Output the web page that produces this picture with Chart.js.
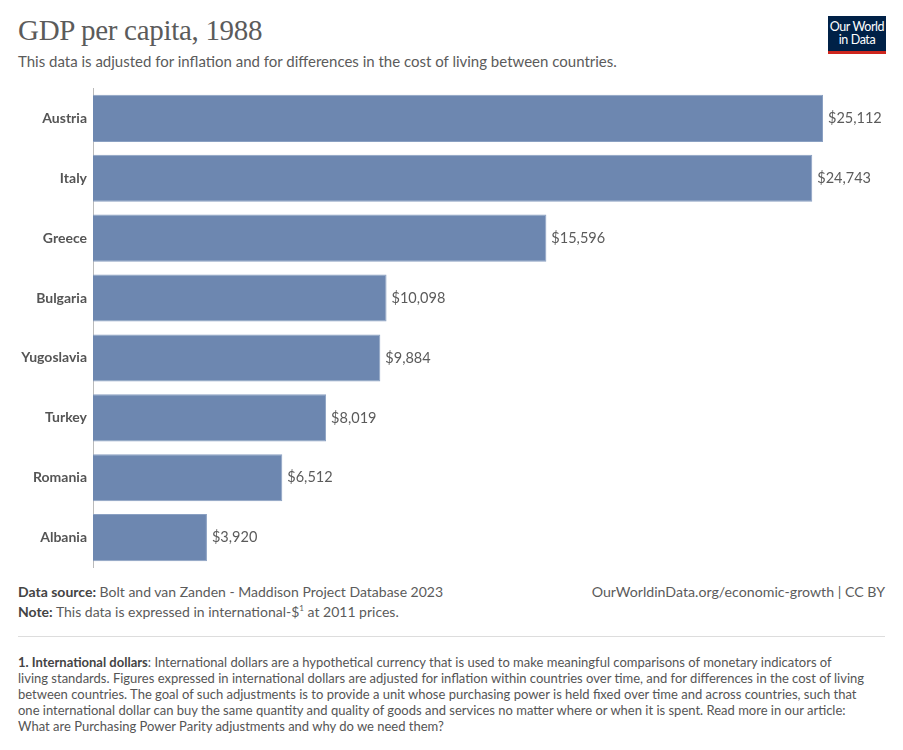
<!DOCTYPE html>
<html>
<head>
<meta charset="utf-8">
<script src="https://cdn.jsdelivr.net/npm/chart.js@4"></script>
<style>
  body { margin: 0; background: #fff; font-family: Lato, "Noto Sans", sans-serif; color: #5b5b5b; }
  #page { position: relative; width: 903px; height: 750px; overflow: hidden; }
  h1 { position: absolute; left: 18px; top: 14px; margin: 0; font-family: "Liberation Serif", "DejaVu Serif", serif; font-weight: normal; font-size: 29px; color: #5b5b5b; letter-spacing: -0.3px; }
  .sub { position: absolute; left: 18px; top: 52px; font-size: 15px; color: #5b5b5b; }
  #logo { position: absolute; left: 828px; top: 16px; width: 58px; background: #002147; border-bottom: 3px solid #ce261e; color: #fff; font-size: 12.5px; line-height: 13px; text-align: center; padding-top: 4px; height: 31px; letter-spacing: -0.4px; }
  #wrap { position: absolute; left: 0; top: 74px; width: 903px; height: 508px; }
  .src { position: absolute; left: 18px; top: 582px; font-size: 14px; line-height: 20px; color: #5b5b5b; }
  .src b { font-weight: bold; color: #444; }
  .src sup { font-size: 8px; line-height: 0; }
  .right { position: absolute; right: 18px; top: 582px; font-size: 14.2px; line-height: 20px; color: #5b5b5b; }
  .rule { position: absolute; left: 18px; right: 18px; top: 636px; border-top: 1px solid #ddd; }
  .foot { position: absolute; left: 18px; top: 654px; width: 885px; white-space: nowrap; font-size: 13px; line-height: 16px; color: #555; }
  .foot b { color: #444; }
</style>
</head>
<body>
<div id="page">
  <h1>GDP per capita, 1988</h1>
  <div class="sub">This data is adjusted for inflation and for differences in the cost of living between countries.</div>
  <div id="logo">Our World<br>in Data</div>
  <div id="wrap"><canvas id="chart"></canvas></div>
  <div class="src"><b>Data source:</b> Bolt and van Zanden - Maddison Project Database 2023<br><b>Note:</b> This data is expressed in international-$<sup>1</sup> at 2011 prices.</div>
  <div class="right">OurWorldinData.org/economic-growth | CC BY</div>
  <div class="rule"></div>
  <div class="foot"><b>1. International dollars</b>: International dollars are a hypothetical currency that is used to make meaningful comparisons of monetary indicators of<br>living standards. Figures expressed in international dollars are adjusted for inflation within countries over time, and for differences in the cost of living<br>between countries. The goal of such adjustments is to provide a unit whose purchasing power is held fixed over time and across countries, such that<br>one international dollar can buy the same quantity and quality of goods and services no matter where or when it is spent. Read more in our article:<br>What are Purchasing Power Parity adjustments and why do we need them?</div>
</div>
<script>
const countries = ["Austria", "Italy", "Greece", "Bulgaria", "Yugoslavia", "Turkey", "Romania", "Albania"];
const gdpPerCapita = [25112, 24743, 15596, 10098, 9884, 8019, 6512, 3920];
const xMax = 26832;

function money(v) {
    return "$" + v.toLocaleString("en-US");
}

// value labels at the end of each bar
const valueLabels = {
    id: "valueLabels",
    afterDatasetsDraw(chart) {
        const ctx = chart.ctx;
        const meta = chart.getDatasetMeta(0);
        ctx.save();
        ctx.font = "14.5px Lato";
        ctx.fillStyle = "#5b5b5b";
        ctx.textBaseline = "middle";
        meta.data.forEach(function (bar, i) {
            ctx.fillText(money(gdpPerCapita[i]), bar.x + 5, bar.y);
        });
        ctx.restore();
    }
};

const myChart = new Chart(document.getElementById("chart"), {
    type: "bar",
    data: {
        labels: countries,
        datasets: [{
            data: gdpPerCapita,
            backgroundColor: "#6d87b0",
            borderColor: "#8aa0c2",
            borderWidth: 1,
            barPercentage: 0.787,
            categoryPercentage: 1.0
        }]
    },
    options: {
        indexAxis: "y",
        responsive: true,
        maintainAspectRatio: false,
        animation: false,
        layout: { padding: { top: 3, bottom: 4, left: 0, right: 30 } },
        plugins: { legend: { display: false }, tooltip: { enabled: false } },
        scales: {
            x: { display: false, min: 0, max: xMax },
            y: {
                grid: { display: false, drawTicks: false },
                border: { display: true, color: "#bbb", width: 1 },
                ticks: { padding: 6, color: "#555", font: { family: "Lato", size: 14, weight: "bold" } },
                afterFit(scale) { scale.width = 93; }
            }
        }
    },
    plugins: [valueLabels]
});
</script>
</body>
</html>
